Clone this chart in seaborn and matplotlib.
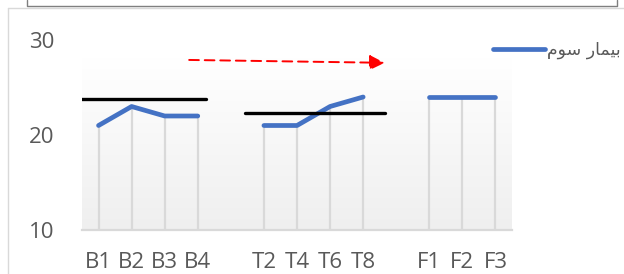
import numpy as np
import pandas as pd
import matplotlib
matplotlib.use("Agg")
import matplotlib.pyplot as plt
import seaborn as sns

# categories (empty slots keep the gap between groups)
tick_labels = ["B1", "B2", "B3", "B4", "", "T2", "T4", "T6", "T8", "", "F1", "F2", "F3"]
groups = ["B", "B", "B", "B", "T", "T", "T", "T", "F", "F", "F"]
categories = ["B1", "B2", "B3", "B4", "T2", "T4", "T6", "T8", "F1", "F2", "F3"]
values = [21, 23, 22, 22, 21, 21, 23, 24, 24, 24, 24]

# hand-drawn reference lines: level and the categories they cover
ref_levels = [23.8, 22.3]
ref_spans = [("B1", "B4"), ("T2", "T8")]

# dashed arrow (start/end in category units and values)
arrow_start = (2.74, 27.9)
arrow_end = (8.65, 27.6)

# legend label, pre-shaped Persian "بیمار سوم" in visual order
series_name = "\ufee1\ufeee\ufeb3 \ufead\ufe8e\ufee4\ufbff\ufe91"

y_ticks = [10, 20, 30]

sns.set_style("white")
plt.rcParams["font.family"] = ["Open Sans", "DejaVu Sans"]

df = pd.DataFrame({"category": categories, "group": groups, "value": values})
df["pos"] = [tick_labels.index(c) for c in df["category"]]

fig = plt.figure(figsize=(6.24, 2.74), dpi=100)
ax = fig.add_axes([82 / 624, 1 - 230 / 274, 430 / 624, 190 / 274])

# gradient plot-area fill
grad = np.linspace(0, 1, 256).reshape(-1, 1)
cmap = matplotlib.colors.LinearSegmentedColormap.from_list("g", ["#efefef", "#ffffff"])
ax.imshow(grad, cmap=cmap, extent=[-0.5, len(tick_labels) - 0.5, 10, 28],
          origin="lower", aspect="auto", zorder=0)

# drop lines
ax.vlines(df["pos"], 10, df["value"], color="#d9d9d9", lw=1.6, zorder=1)

sns.lineplot(data=df, x="pos", y="value", units="group", estimator=None,
             color="#4472c4", lw=3.4, ax=ax, zorder=3, solid_capstyle="round",
             legend=False)

# black level lines (B line stops at B4, T line runs past T8)
pads = [(0.56, 0.26), (0.56, 0.65)]
for level, (a, b), (pl, pr) in zip(ref_levels, ref_spans, pads):
    ax.plot([tick_labels.index(a) - pl, tick_labels.index(b) + pr], [level, level],
            color="black", lw=2.4, zorder=4)

ax.annotate("", xy=arrow_end, xytext=arrow_start,
            arrowprops=dict(arrowstyle="-|>,head_length=0.9,head_width=0.45",
                            color="#ff0000", lw=1.4, linestyle=(0, (5, 3)),
                            shrinkA=0, shrinkB=0), zorder=5)

ax.set_xlim(-0.5, len(tick_labels) - 0.5)
ax.set_ylim(10, 30)
ax.set_xticks(range(len(tick_labels)))
ax.set_xticklabels(tick_labels)
ax.set_yticks(y_ticks)
ax.tick_params(axis="both", length=0, labelsize=16, colors="#595959")
ax.tick_params(axis="x", pad=16)
ax.tick_params(axis="y", pad=20)
ax.set_xlabel("")
ax.set_ylabel("")
for s in ["top", "right", "left"]:
    ax.spines[s].set_visible(False)
ax.spines["bottom"].set_color("#d9d9d9")
ax.spines["bottom"].set_linewidth(1.6)
ax.spines["bottom"].set_zorder(2)

handle = plt.Line2D([], [], color="#4472c4", lw=3.4, solid_capstyle="round")
leg = ax.legend([handle], [series_name], loc="center left",
                bbox_to_anchor=(493 / 624, 1 - 50 / 274),
                bbox_transform=fig.transFigure, frameon=False, borderpad=0,
                borderaxespad=0, handlelength=3.0, handletextpad=0.1,
                prop={"family": "DejaVu Sans", "size": 12.5})
for t in leg.get_texts():
    t.set_color("#595959")

# chart border and box above
fig.add_artist(plt.Line2D([8 / 624, 8 / 624], [0, 1 - 8 / 274], color="#d9d9d9", lw=1))
fig.add_artist(plt.Line2D([8 / 624, 1], [1 - 8 / 274, 1 - 8 / 274], color="#d9d9d9", lw=1))
fig.add_artist(plt.Line2D([27 / 624, 27 / 624, 617 / 624, 617 / 624],
                          [1, 1 - 6 / 274, 1 - 6 / 274, 1], color="#7f7f7f", lw=1))

fig.savefig("out.png", dpi=100)
